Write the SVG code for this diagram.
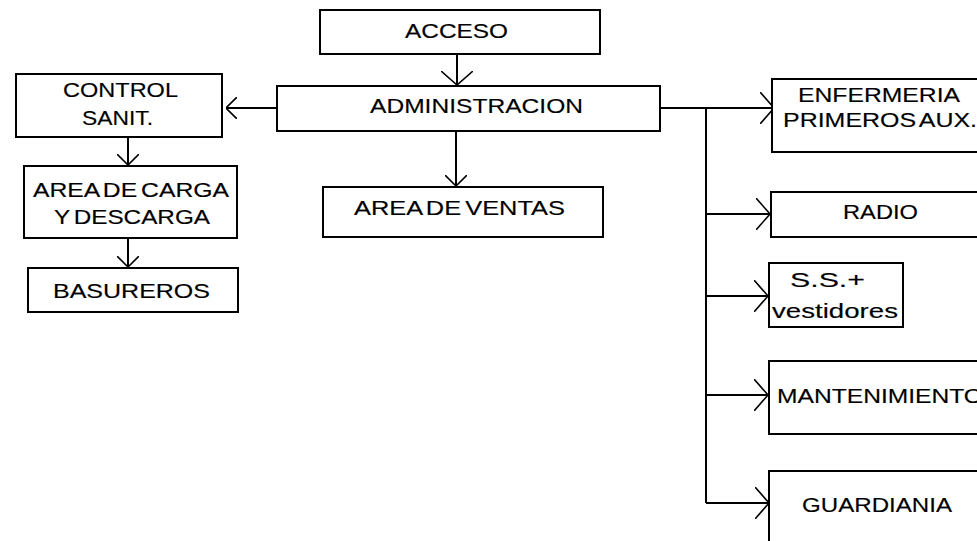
<svg xmlns="http://www.w3.org/2000/svg" width="977" height="541" viewBox="0 0 977 541">
<style>
  .box { fill: #fff; stroke: #000; stroke-width: 2; }
  .t { font-family: "Liberation Sans", Arial, sans-serif; font-size: 21px; fill: #000; stroke: #000; stroke-width: 0.15; word-spacing: -2.5px; }
  .c { fill: none; stroke: #000; stroke-width: 2; }
</style>
<defs>
  <marker id="aL" viewBox="0 0 14 32" refX="14" refY="16" markerWidth="14" markerHeight="32" markerUnits="userSpaceOnUse" orient="auto">
    <path d="M0,0 L14,16 L0,32" fill="none" stroke="#000" stroke-width="1.6"/>
  </marker>
  <marker id="aS" viewBox="0 0 11 22" refX="11" refY="11" markerWidth="11" markerHeight="22" markerUnits="userSpaceOnUse" orient="auto">
    <path d="M0,0 L11,11 L0,22" fill="none" stroke="#000" stroke-width="1.6"/>
  </marker>
</defs>
<rect width="977" height="541" fill="#fff"/>

<g id="connectors">
  <path class="c" d="M457,54 V85" marker-end="url(#aL)"/>
  <path class="c" d="M456,131 V186" marker-end="url(#aS)"/>
  <path class="c" d="M277,108 H226" marker-end="url(#aS)"/>
  <path class="c" d="M128,137 V165" marker-end="url(#aS)"/>
  <path class="c" d="M128,238 V267" marker-end="url(#aS)"/>
  <path class="c" d="M660,108 H774" marker-end="url(#aL)"/>
  <path class="c" d="M706,108 V503"/>
  <path class="c" d="M706,214 H770" marker-end="url(#aL)"/>
  <path class="c" d="M706,296 H768" marker-end="url(#aL)"/>
  <path class="c" d="M706,395 H768" marker-end="url(#aL)"/>
  <path class="c" d="M706,503 H769" marker-end="url(#aL)"/>
</g>

<g id="acceso">
  <rect class="box" x="320" y="10" width="280" height="44"/>
  <text class="t" x="405" y="38" textLength="103" lengthAdjust="spacingAndGlyphs">ACCESO</text>
</g>
<g id="administracion">
  <rect class="box" x="277" y="86" width="383" height="45"/>
  <text class="t" x="370" y="113" textLength="213" lengthAdjust="spacingAndGlyphs">ADMINISTRACION</text>
</g>
<g id="area-ventas">
  <rect class="box" x="323" y="187" width="280" height="50"/>
  <text class="t" x="354" y="215" textLength="211" lengthAdjust="spacingAndGlyphs">AREA DE VENTAS</text>
</g>
<g id="control-sanit">
  <rect class="box" x="16" y="74" width="206" height="63"/>
  <text class="t" x="63" y="97" textLength="115" lengthAdjust="spacingAndGlyphs">CONTROL</text>
  <text class="t" x="82" y="125" textLength="71" lengthAdjust="spacingAndGlyphs">SANIT.</text>
</g>
<g id="area-carga">
  <rect class="box" x="24" y="166" width="213" height="72"/>
  <text class="t" x="33" y="197" textLength="196" lengthAdjust="spacingAndGlyphs">AREA DE CARGA</text>
  <text class="t" x="54" y="224" textLength="156" lengthAdjust="spacingAndGlyphs">Y DESCARGA</text>
</g>
<g id="basureros">
  <rect class="box" x="28" y="268" width="210" height="44"/>
  <text class="t" x="53" y="298" textLength="157" lengthAdjust="spacingAndGlyphs">BASUREROS</text>
</g>
<g id="enfermeria">
  <rect class="box" x="772" y="79" width="230" height="73"/>
  <text class="t" x="798" y="102" textLength="162" lengthAdjust="spacingAndGlyphs">ENFERMERIA</text>
  <text class="t" x="783" y="127" textLength="194" lengthAdjust="spacingAndGlyphs">PRIMEROS AUX.</text>
</g>
<g id="radio">
  <rect class="box" x="771" y="192" width="230" height="45"/>
  <text class="t" x="843" y="219" textLength="75" lengthAdjust="spacingAndGlyphs">RADIO</text>
</g>
<g id="ss-vestidores">
  <rect class="box" x="769" y="263" width="134" height="64"/>
  <text class="t" x="790" y="287" textLength="75" lengthAdjust="spacingAndGlyphs">S.S.+</text>
  <text class="t" x="772" y="318" textLength="126" lengthAdjust="spacingAndGlyphs">vestidores</text>
</g>
<g id="mantenimiento">
  <rect class="box" x="769" y="361" width="230" height="73"/>
  <text class="t" x="777" y="403" textLength="206" lengthAdjust="spacingAndGlyphs">MANTENIMIENTO</text>
</g>
<g id="guardiania">
  <rect class="box" x="769" y="471" width="230" height="90"/>
  <text class="t" x="802" y="512" textLength="150" lengthAdjust="spacingAndGlyphs">GUARDIANIA</text>
</g>
</svg>
